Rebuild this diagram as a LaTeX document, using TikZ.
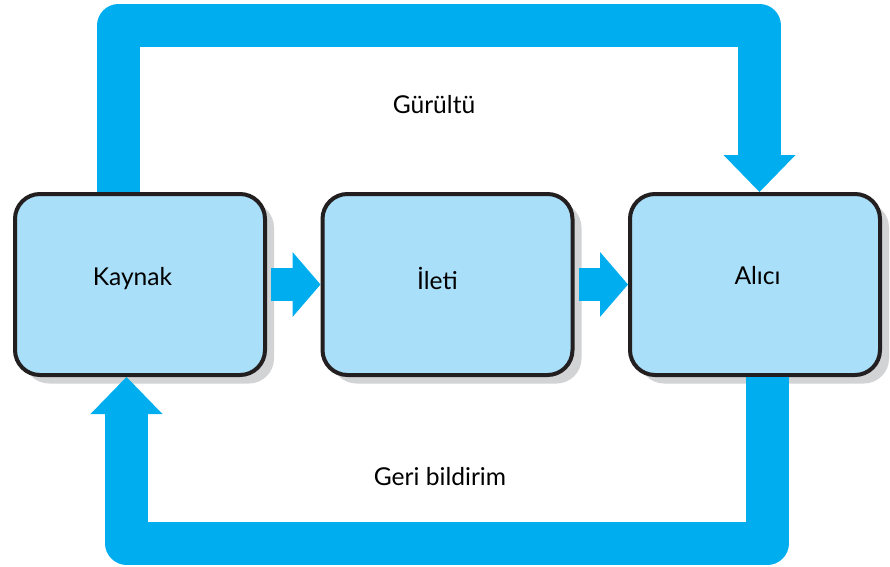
\documentclass[tikz,border=0pt]{standalone}
\usepackage{fontspec}
\setmainfont{Lato}
\usepackage{tikz}
\usetikzlibrary{positioning,arrows.meta,shadows}
\definecolor{bandblue}{HTML}{00AEEF}
\definecolor{boxblue}{HTML}{AADFF9}
\definecolor{boxline}{HTML}{231F20}
\definecolor{shadowgray}{HTML}{D1D3D4}

\begin{document}
\begin{tikzpicture}[
			stage/.style={
					rectangle,
					draw=boxline,
					line width=0.08cm,
					rounded corners=0.5cm,
					fill=boxblue,
					minimum width=5.0cm,
					minimum height=3.62cm,
					drop shadow={shadow xshift=0.18cm, shadow yshift=-0.17cm, fill=shadowgray, opacity=1},
				},
			flow/.style={
					draw=bandblue,
					line width=0.66cm,
					shorten <=0.08cm,
					-{Triangle[length=0.56cm, width=1.3cm, line width=0pt]},
				},
			loop/.style={
					draw=bandblue,
					line width=0.86cm,
					line join=round,
					-{Triangle[length=0.74cm, width=1.44cm, line width=0pt]},
				},
			caption/.style={font=\fontsize{14}{17}\selectfont},
			boxtext/.style={caption, anchor=base, yshift=0.12cm}
		]
		\useasboundingbox (0,0) rectangle (17.8,-11.34);

		% Kaynak box
		\node[stage, label={[boxtext, xshift=-0.15cm]center:Kaynak}] (kaynak) at (2.80,-5.69) {};

		% Ileti box
		\node[stage, right=1.07cm of kaynak, label={[boxtext, xshift=-0.2cm]center:İleti}] (ileti) {};

		% Alici box
		\node[stage, right=1.07cm of ileti, label={[boxtext, xshift=0.05cm, yshift=0.06cm]center:Alıcı}] (alici) {};

		% Connections
		\draw[flow] (kaynak.east) -- (ileti.west);
		\draw[flow] (ileti.east) -- (alici.west);

		% Noise loop
		\draw[loop] ([xshift=-0.43cm]kaynak.north) |- ([xshift=0.09cm, yshift=3.33cm]alici.north) -- ([xshift=0.09cm]alici.north);
		\node[caption] (noise) at (8.68,-2.10) {Gürültü};

		% Feedback loop
		\draw[loop] ([xshift=0.25cm]alici.south) |- ([xshift=-0.27cm, yshift=-3.32cm]kaynak.south) -- ([xshift=-0.27cm]kaynak.south);
		\node[caption] (feedback) at (8.80,-9.54) {Geri bildirim};
	\end{tikzpicture}
\end{document}
